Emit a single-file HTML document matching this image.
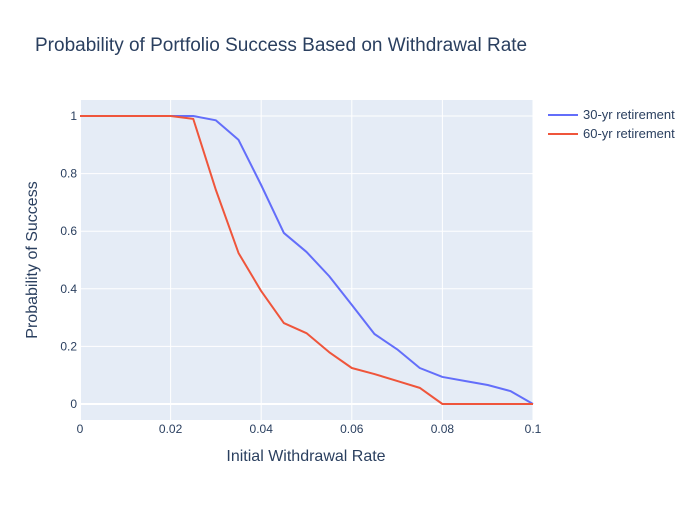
<!DOCTYPE html>
<html><head><meta charset="utf-8"><style>
body{margin:0;background:#fff;font-family:"Liberation Sans",sans-serif;}
svg text{font-family:"Liberation Sans",sans-serif;fill:#2a3f5f;}
</style></head><body>
<svg id="chart" width="700" height="500">
<rect x="0" y="0" width="700" height="500" fill="#fff"/>
<text x="35" y="51" font-size="19">Probability of Portfolio Success Based on Withdrawal Rate</text>
<rect x="80" y="100" width="453" height="320" fill="#e5ecf6"/>
<g id="grid"></g><g id="series"></g><g id="ticks"></g>
<text x="306" y="461" font-size="16" text-anchor="middle">Initial Withdrawal Rate</text>
<text transform="translate(37,260) rotate(-90)" font-size="16" text-anchor="middle">Probability of Success</text>
<g>
<g><line x1="548" y1="115" x2="578" y2="115" stroke="#636efa" stroke-width="2"/><text x="583" y="119" font-size="13">30-yr retirement</text></g>
<g><line x1="548" y1="134" x2="578" y2="134" stroke="#ef553b" stroke-width="2"/><text x="583" y="138" font-size="13">60-yr retirement</text></g>
</g>
</svg>
<script>
const rates=[0,0.005,0.01,0.015,0.02,0.025,0.03,0.035,0.04,0.045,0.05,0.055,0.06,0.065,0.07,0.075,0.08,0.085,0.09,0.095,0.1];
const success30=[1,1,1,1,1,1,0.985,0.917,0.76,0.594,0.528,0.444,0.344,0.243,0.19,0.125,0.094,0.08,0.066,0.045,0];
const success60=[1,1,1,1,1,0.99,0.743,0.524,0.392,0.281,0.246,0.18,0.125,0.104,0.08,0.056,0,0,0,0,0];
const xTicks=[0,0.02,0.04,0.06,0.08,0.1];
const xTickLabels=["0","0.02","0.04","0.06","0.08","0.1"];
const yTicks=[0,0.2,0.4,0.6,0.8,1];
const yTickLabels=["0","0.2","0.4","0.6","0.8","1"];
const NS="http://www.w3.org/2000/svg";
const xs=v=>80+v/0.1*453;
const ys=v=>404-v*288;
function mk(tag,attrs,parent){const e=document.createElementNS(NS,tag);for(const k in attrs)e.setAttribute(k,attrs[k]);document.getElementById(parent).appendChild(e);return e;}
xTicks.forEach((t,i)=>{
 const g=mk('line',{x1:xs(t),x2:xs(t),y1:100,y2:420,stroke:'#fff','stroke-width':t===0?2:1},'grid');
 
 
 const l=mk('text',{x:xs(t),y:433,'font-size':12,'text-anchor':'middle'},'ticks');l.textContent=xTickLabels[i];
 
 
});
yTicks.forEach((t,i)=>{
 const g=mk('line',{x1:80,x2:533,y1:ys(t),y2:ys(t),stroke:'#fff','stroke-width':t===0?2:1},'grid');
 
 
 const l=mk('text',{x:77,y:ys(t)+4,'font-size':12,'text-anchor':'end'},'ticks');l.textContent=yTickLabels[i];
 
 
});
function line(vals,color,name){
 const p=mk('polyline',{points:rates.map((r,i)=>xs(r)+','+ys(vals[i])).join(' '),fill:'none',stroke:color,'stroke-width':2,'stroke-linejoin':'round'},'series');
 
 
}
line(success30,'#636efa','line-30yr');
line(success60,'#ef553b','line-60yr');
</script>
</body></html>
